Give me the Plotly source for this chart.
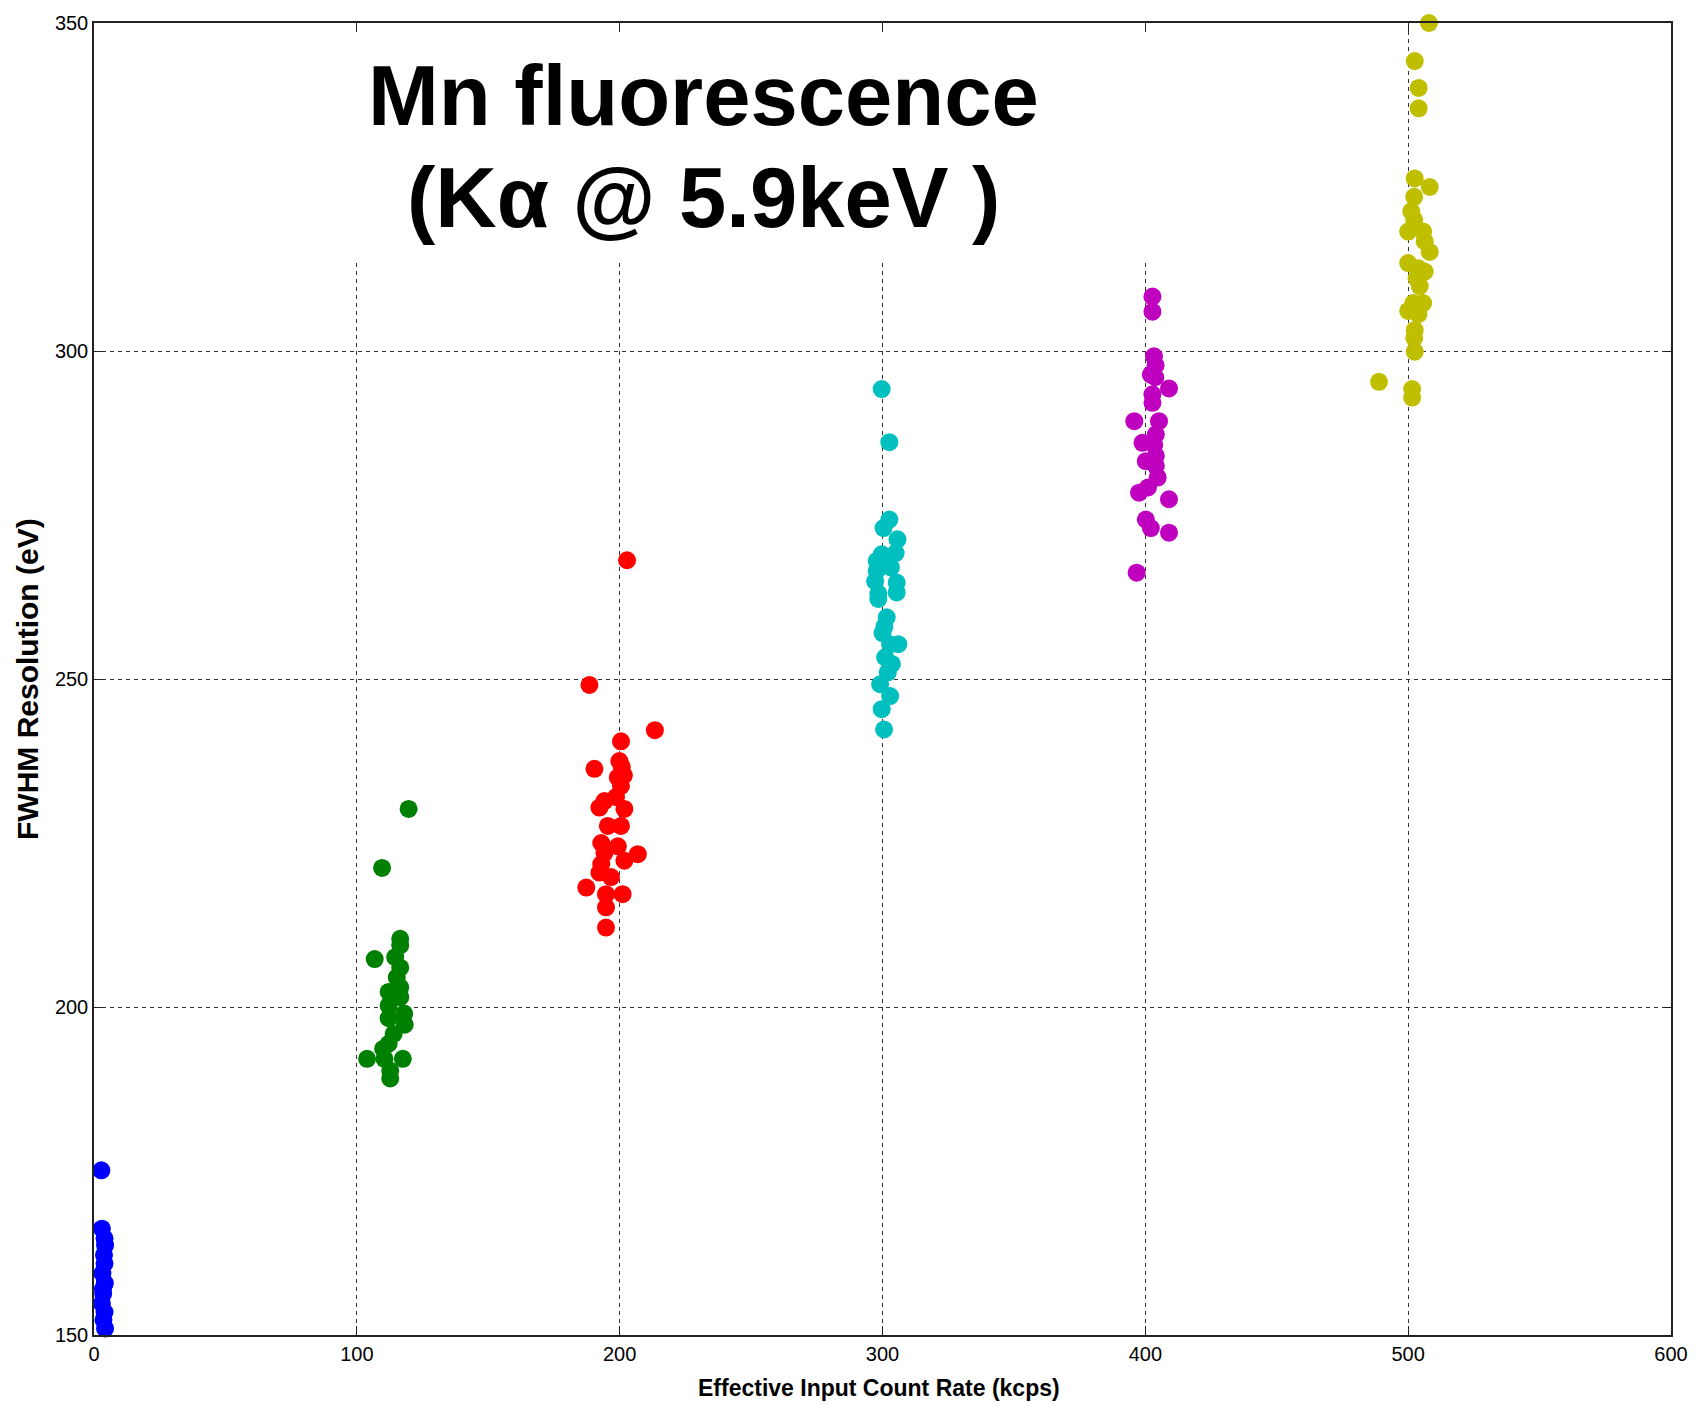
import plotly.graph_objects as go

# ---- data ----
blue_x = [2.8, 3.0, 4.0, 4.2, 3.8, 4.0, 3.2, 4.1, 3.5, 3.0, 4.0, 3.6, 4.2, 3.4]
blue_y = [175.1, 166.2, 164.7, 163.7, 162.2, 160.9, 159.4, 157.9, 156.3, 154.8, 153.5, 152.3, 151.0, 157.0]

green_x = [119.7, 109.6, 116.5, 116.5, 106.8, 114.6, 116.5, 115.2, 116.5, 112.1, 116.5, 112.1,
           118.0, 112.1, 118.2, 114.0, 112.1, 110.0, 103.9, 110.5, 117.5, 112.7, 112.7]
green_y = [230.2, 221.2, 210.4, 209.4, 207.3, 207.6, 206.0, 204.5, 203.0, 202.3, 201.5, 200.2,
           199.0, 198.3, 197.3, 195.9, 194.4, 193.6, 192.1, 192.1, 192.1, 190.3, 189.1]

red_x = [202.8, 188.5, 213.4, 200.5, 199.9, 190.4, 200.8, 199.3, 201.6, 200.5, 198.6, 194.2,
         192.3, 201.8, 195.5, 200.5, 193.0, 199.3, 206.9, 194.2, 201.8, 193.0, 192.3, 196.7,
         187.3, 194.8, 201.1, 194.8, 194.8]
red_y = [268.1, 249.1, 242.2, 240.5, 237.5, 236.3, 236.6, 235.0, 235.3, 233.7, 232.0, 231.4,
         230.4, 230.2, 227.6, 227.6, 225.0, 224.5, 223.3, 223.5, 222.3, 221.8, 220.5, 219.8,
         218.2, 217.2, 217.2, 215.2, 212.1]

cyan_x = [299.7, 302.6, 302.6, 300.4, 305.7, 305.0, 299.7, 297.8, 301.0, 297.8, 303.2, 297.2,
          305.4, 305.4, 298.4, 298.4, 301.6, 300.7, 300.0, 306.0, 302.9, 301.0, 303.6, 302.0,
          299.1, 302.9, 299.7, 300.6]
cyan_y = [294.2, 286.1, 274.3, 273.0, 271.3, 269.2, 269.0, 268.0, 267.7, 266.5, 267.0, 264.9,
          264.7, 263.2, 263.0, 262.2, 259.4, 258.0, 257.0, 255.3, 255.3, 253.3, 252.3, 251.0,
          249.2, 247.4, 245.4, 242.3]

magenta_x = [402.7, 402.7, 403.3, 403.9, 402.1, 403.8, 409.0, 402.7, 402.7, 395.8, 405.2, 404.0,
             398.9, 403.4, 404.0, 400.2, 404.0, 404.7, 401.0, 397.6, 409.0, 400.2, 402.1, 409.0,
             396.7]
magenta_y = [308.3, 306.0, 299.2, 297.8, 296.4, 296.0, 294.3, 293.4, 292.1, 289.3, 289.3, 287.3,
             286.0, 285.7, 284.0, 283.2, 282.5, 280.7, 279.2, 278.4, 277.4, 274.3, 273.0, 272.3,
             266.2]

yellow_x = [507.9, 502.5, 504.0, 504.0, 502.5, 508.2, 502.3, 501.2, 502.3, 500.0, 505.7, 506.3,
            508.2, 500.0, 503.9, 506.3, 503.2, 504.4, 502.0, 505.7, 500.0, 503.9, 502.5, 502.3,
            502.5, 488.9, 501.5, 501.5]
yellow_y = [350.0, 344.2, 340.1, 337.0, 326.3, 325.0, 323.5, 321.3, 320.0, 318.2, 318.2, 316.7,
            315.1, 313.4, 312.6, 312.1, 311.1, 309.9, 307.3, 307.3, 306.1, 305.6, 303.2, 302.0,
            299.9, 295.3, 294.2, 292.9]

x_ticks = [0, 100, 200, 300, 400, 500, 600]
y_ticks = [150, 200, 250, 300, 350]

title_line1 = "Mn fluorescence"
title_line2 = "(Kα @ 5.9keV )"
x_title = "Effective Input Count Rate (kcps)"
y_title = "FWHM Resolution (eV)"

series = [
    (blue_x, blue_y, "#0000FF"),
    (green_x, green_y, "#008000"),
    (red_x, red_y, "#FF0000"),
    (cyan_x, cyan_y, "#00BFBF"),
    (magenta_x, magenta_y, "#BF00BF"),
    (yellow_x, yellow_y, "#BFBF00"),
]

FONT = "Liberation Sans, Arial, Helvetica, sans-serif"

fig = go.Figure()
for xs, ys, col in series:
    fig.add_trace(go.Scatter(
        x=xs, y=ys, mode="markers",
        marker=dict(color=col, size=18, symbol="circle", line=dict(width=0)),
        cliponaxis=False, showlegend=False, hoverinfo="skip",
    ))

axis_common = dict(
    showline=True, linecolor="#222222", linewidth=1.5, mirror="ticks",
    ticks="inside", ticklen=9, tickwidth=1.3, tickcolor="#222222",
    showgrid=True, gridcolor="#333333", gridwidth=1, griddash="4px,4px",
    zeroline=False,
    tickfont=dict(family=FONT, size=20, color="black"),
)

fig.update_xaxes(range=[0, 600], tickvals=x_ticks, ticktext=[str(v) for v in x_ticks],
                 **axis_common)
fig.update_yaxes(range=[150, 350], tickvals=y_ticks, ticktext=[str(v) for v in y_ticks],
                 **axis_common)

# white box behind the title (hides grid lines, MATLAB text background)
fig.add_shape(type="rect", xref="x", yref="y", x0=0, x1=455, y0=313.6, y1=350,
              fillcolor="white", line=dict(width=0), layer="between")

fig.add_annotation(x=231.9, y=339.0, xref="x", yref="y", text="<b>%s</b>" % title_line1,
                   showarrow=False, xanchor="center", yanchor="middle",
                   font=dict(family=FONT, size=85, color="black"))
fig.add_annotation(x=231.9, y=323.4, xref="x", yref="y", text="<b>%s</b>" % title_line2,
                   showarrow=False, xanchor="center", yanchor="middle",
                   font=dict(family=FONT, size=85, color="black"))

fig.add_annotation(x=0.498, y=-0.0403, xref="paper", yref="paper", text="<b>%s</b>" % x_title,
                   showarrow=False, xanchor="center", yanchor="middle",
                   font=dict(family=FONT, size=23, color="black"))
fig.add_annotation(x=-0.0425, y=0.5, xref="paper", yref="paper", text="<b>%s</b>" % y_title,
                   showarrow=False, xanchor="center", yanchor="middle", textangle=-90,
                   font=dict(family=FONT, size=30, color="black"))

fig.update_layout(
    width=1700, height=1406,
    margin=dict(l=94, r=23, t=21, b=71),
    paper_bgcolor="white", plot_bgcolor="white",
    showlegend=False,
)

fig.write_html("out.html")
